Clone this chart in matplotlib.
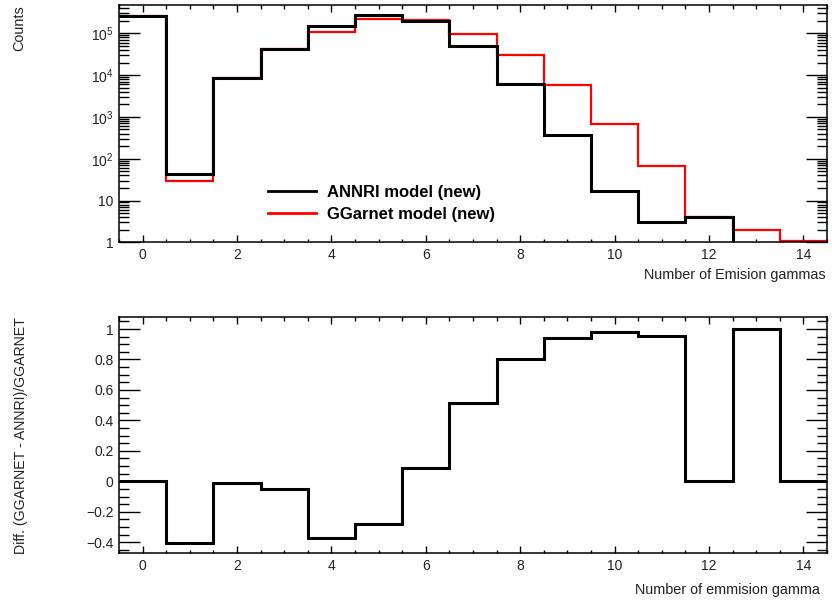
import numpy as np
import matplotlib
matplotlib.use("Agg")
import matplotlib.pyplot as plt
from matplotlib.ticker import FixedLocator, MultipleLocator, LogLocator, NullFormatter, FixedFormatter

plt.rcParams['font.family'] = ['Liberation Sans', 'DejaVu Sans']
plt.rcParams['mathtext.default'] = 'regular'

# ---- data ----
bin_centers = np.arange(0, 15)
annri_counts = [2.6e5, 42, 8.5e3, 4.2e4, 1.5e5, 2.75e5, 1.96e5, 5.0e4, 6.0e3, 370, 16.6, 3.06, 4.0, 0, 0]
ggarnet_counts = [2.6e5, 30, 8.5e3, 4.1e4, 1.06e5, 2.2e5, 2.05e5, 9.8e4, 3.1e4, 5.7e3, 690, 67, 4.0, 2.0, 1.07]
diff_values = [0.0, -0.403, -0.011, -0.053, -0.374, -0.28, 0.085, 0.512, 0.803, 0.939, 0.978, 0.956, 0.0, 1.0, 0.0]
legend_labels = ["ANNRI model (new)", "GGarnet model (new)"]
top_xlabel = "Number of Emision gammas"
top_ylabel = "Counts"
bot_xlabel = "Number of emmision gamma"
bot_ylabel = "Diff. (GGARNET - ANNRI)/GGARNET"

edges = np.concatenate([bin_centers - 0.5, [bin_centers[-1] + 0.5]])

W, H = 832, 601
fig = plt.figure(figsize=(W / 100, H / 100), dpi=100)
PX = 72 / 100  # points per pixel

L, R = 119 / W, 827 / W
ax1 = fig.add_axes([L, 1 - 242.3 / H, R - L, (242.3 - 5.3) / H])
ax2 = fig.add_axes([L, 1 - 553.3 / H, R - L, (553.3 - 317.3) / H])

ylo = 1.0
ytop = 10 ** 5.67

def clip_log(v):
    v = np.asarray(v, dtype=float)
    return np.where(v > 0, v, ylo * 0.5)

ax1.stairs(clip_log(ggarnet_counts), edges, color='#ff0000', lw=1.6, baseline=None, zorder=2)
ax1.stairs(clip_log(annri_counts), edges, color='black', lw=2.2, baseline=None, zorder=3)
ax1.set_yscale('log')
ax1.set_xlim(edges[0], edges[-1])
ax1.set_ylim(ylo, ytop)

ax2.stairs(diff_values, edges, color='black', lw=2.2, baseline=None)
ax2.set_xlim(edges[0], edges[-1])
ax2.set_ylim(-0.473, 1.077)

tick_fs = 10
for ax in (ax1, ax2):
    for s in ax.spines.values():
        s.set_linewidth(1.1)
    ax.xaxis.set_major_locator(MultipleLocator(2))
    ax.xaxis.set_minor_locator(MultipleLocator(0.5))
    ax.tick_params(axis='both', which='both', direction='in', top=True, right=True,
                   labelsize=tick_fs, colors='black', labelcolor='#222222')
    ax.tick_params(axis='x', which='major', length=7 * PX, width=1.0, pad=4)
    ax.tick_params(axis='x', which='minor', length=3.5 * PX, width=1.0)
    ax.tick_params(axis='y', which='major', length=21 * PX, width=1.0, pad=4)
    ax.tick_params(axis='y', which='minor', length=10 * PX, width=1.0)

# log y-axis ticks
ax1.yaxis.set_major_locator(FixedLocator([1, 10, 100, 1e3, 1e4, 1e5]))
ax1.yaxis.set_major_formatter(FixedFormatter(['1', '10', '$10^{2}$', '$10^{3}$', '$10^{4}$', '$10^{5}$']))
ax1.yaxis.set_minor_locator(LogLocator(base=10, subs=np.arange(2, 10)))
ax1.yaxis.set_minor_formatter(NullFormatter())

ax2.yaxis.set_major_locator(MultipleLocator(0.2))
ax2.yaxis.set_minor_locator(MultipleLocator(0.05))
ax2.yaxis.set_major_formatter(matplotlib.ticker.FuncFormatter(
    lambda v, p: ('%g' % round(v, 2)).replace('-', '\u2212')))

title_fs = 10.4
fig.text(19 / W, 1 - 5 / H, top_ylabel, rotation=90, ha='center', va='top', fontsize=title_fs, color='#222222')
fig.text(826 / W, 1 - 275 / H, top_xlabel, ha='right', va='center', fontsize=title_fs, color='#222222')
fig.text(21 / W, 1 - 317 / H, bot_ylabel, rotation=90, ha='center', va='top', fontsize=10.2, color='#222222')
fig.text(820 / W, 1 - 590 / H, bot_xlabel, ha='right', va='center', fontsize=title_fs, color='#222222')

# legend
from matplotlib.lines import Line2D
handles = [Line2D([0], [0], color='black', lw=2.0), Line2D([0], [0], color='#ff0000', lw=2.0)]
leg = ax1.legend(handles, legend_labels, loc='upper left',
                 bbox_to_anchor=((268 - 119) / (827 - 119), 1 - (185 - 5.3) / (242.3 - 5.3)),
                 frameon=False, prop={'weight': 'bold', 'size': 12},
                 handlelength=2.9, handletextpad=0.65, labelspacing=0.4, borderaxespad=0, borderpad=0)

fig.savefig('out.png', dpi=100)
